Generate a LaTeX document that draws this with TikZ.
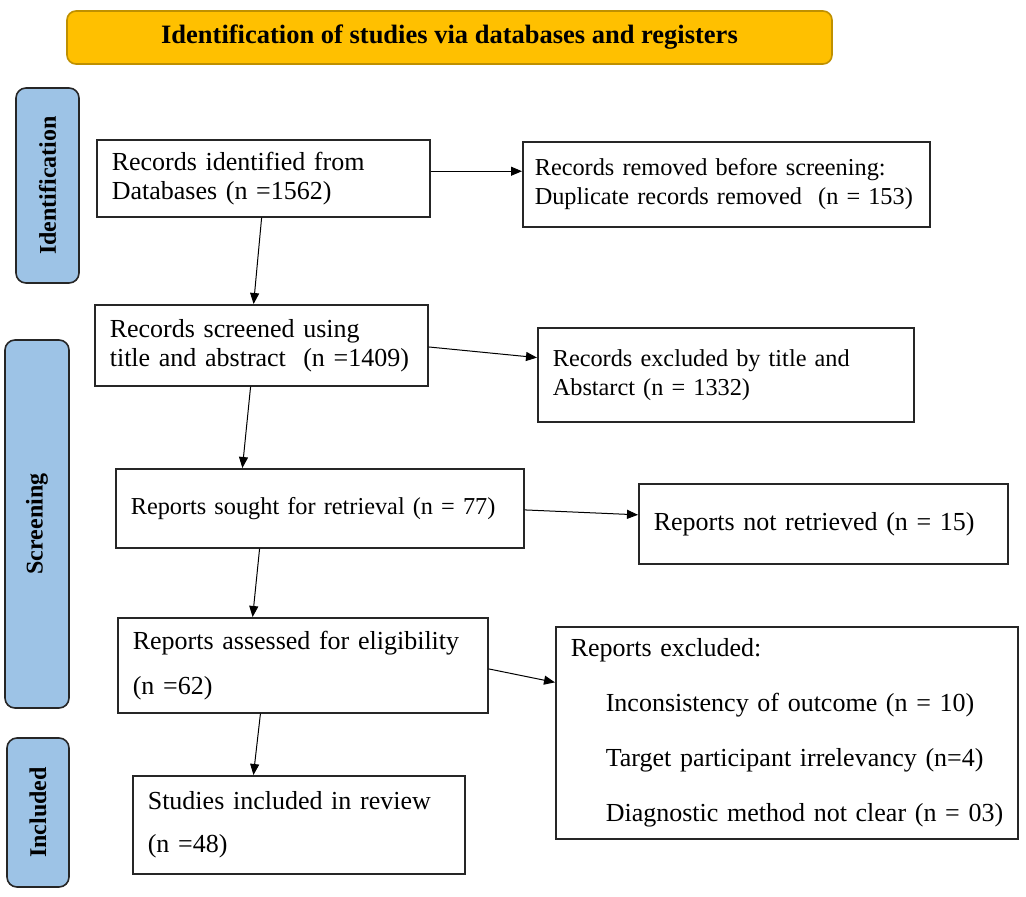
\documentclass[tikz,border=0pt]{standalone}
\usepackage{fontspec}
\setmainfont{Liberation Serif}
\usetikzlibrary{arrows.meta,calc,positioning}
\definecolor{titlefill}{HTML}{FFC000}
\definecolor{titleedge}{HTML}{BF9000}
\definecolor{stagefill}{HTML}{9DC3E6}

\begin{document}
\begin{tikzpicture}[
  x=1pt, y=-1pt,
  box/.style={draw=black!85, line width=1.6pt, rectangle, anchor=north west, align=left,
    inner xsep=15pt, inner ysep=0pt, font=\fontsize{24.3}{29}\selectfont},
  bigbox/.style={box, font=\fontsize{26}{29}\selectfont},
  stage/.style={draw=black!85, line width=1.6pt, rounded corners=10pt, fill=stagefill,
    rotate=90, inner sep=0pt, font=\fontsize{24}{28}\selectfont\bfseries},
  flow/.style={draw, line width=1pt, -{Triangle[length=11pt,width=9pt]}}
]
\useasboundingbox (0,0) rectangle (1026,897);

\node[draw=titleedge, fill=titlefill, line width=1.6pt, rounded corners=9pt,
  minimum width=765pt, minimum height=53pt, font=\fontsize{26.5}{30}\selectfont\bfseries]
  (title) at (449.5,37.5) {Identification of studies via databases and registers};

\node[stage, minimum width=195pt, minimum height=63pt] (idbar) at (47.5,185.5) {Identification};
\node[stage, minimum width=368pt, minimum height=64pt] (scbar) at (37,524) {Screening};
\node[stage, minimum width=149pt, minimum height=62pt] (inbar) at (38,812.5) {Included};

\node[bigbox, minimum width=333pt, minimum height=77pt, text width=303pt] (found) at (96,139)
  {Records identified from\\Databases (n =1562)};
\node[box, inner xsep=12pt, minimum width=407pt, minimum height=85pt, text width=383pt] (dup) at (522,141)
  {Records removed before screening:\\\mbox{Duplicate records removed~ (n = 153)}};
\node[bigbox, minimum width=333pt, minimum height=81pt, text width=303pt] (screen) at (94,304)
  {Records screened using\\\mbox{title and abstract~ (n =1409)}};
\node[box, minimum width=376pt, minimum height=94pt, text width=346pt] (excl) at (537,327)
  {Records excluded by title and\\Abstarct (n = 1332)\\[-8pt]};
\node[box, minimum width=408pt, minimum height=79pt, text width=378pt] (sought) at (115,468)
  {Reports sought for retrieval (n = 77)};
\node[bigbox, minimum width=369pt, minimum height=80pt, text width=339pt] (notret) at (638,483)
  {Reports not retrieved (n = 15)\\[-10pt]};
\node[bigbox, minimum width=370pt, minimum height=95pt, text width=340pt] (elig) at (117,617)
  {Reports assessed for eligibility\\[16pt](n =62)};
\node[bigbox, minimum width=462pt, minimum height=212pt, text width=432pt] (reason) at (555,626)
  {Reports excluded:\\[26pt]
   \hspace*{35pt}Inconsistency of outcome (n = 10)\\[26pt]
   \hspace*{35pt}Target participant irrelevancy (n=4)\\[26pt]
   \hspace*{35pt}\mbox{Diagnostic method not clear (n = 03)}};
\node[bigbox, minimum width=332pt, minimum height=98pt, text width=302pt] (incl) at (132,775)
  {Studies included in review\\[14pt](n =48)};

\draw[flow] ($(found.north east)!0.41!(found.south east)$) coordinate (f1) -- (f1 -| dup.west);
\draw[flow] ($(found.south west)!0.495!(found.south east)$) -- ($(screen.north west)!0.477!(screen.north east)$);
\draw[flow] ($(screen.north east)!0.52!(screen.south east)$) -- ($(excl.north west)!0.32!(excl.south west)$);
\draw[flow] ($(screen.south west)!0.468!(screen.south east)$) -- ($(sought.north west)!0.311!(sought.north east)$);
\draw[flow] ($(sought.north east)!0.52!(sought.south east)$) -- ($(notret.north west)!0.39!(notret.south west)$);
\draw[flow] ($(sought.south west)!0.353!(sought.south east)$) -- ($(elig.north west)!0.365!(elig.north east)$);
\draw[flow] ($(elig.north east)!0.537!(elig.south east)$) -- ($(reason.north west)!0.264!(reason.south west)$);
\draw[flow] ($(elig.south west)!0.386!(elig.south east)$) -- ($(incl.north west)!0.364!(incl.north east)$);
\end{tikzpicture}
\end{document}
